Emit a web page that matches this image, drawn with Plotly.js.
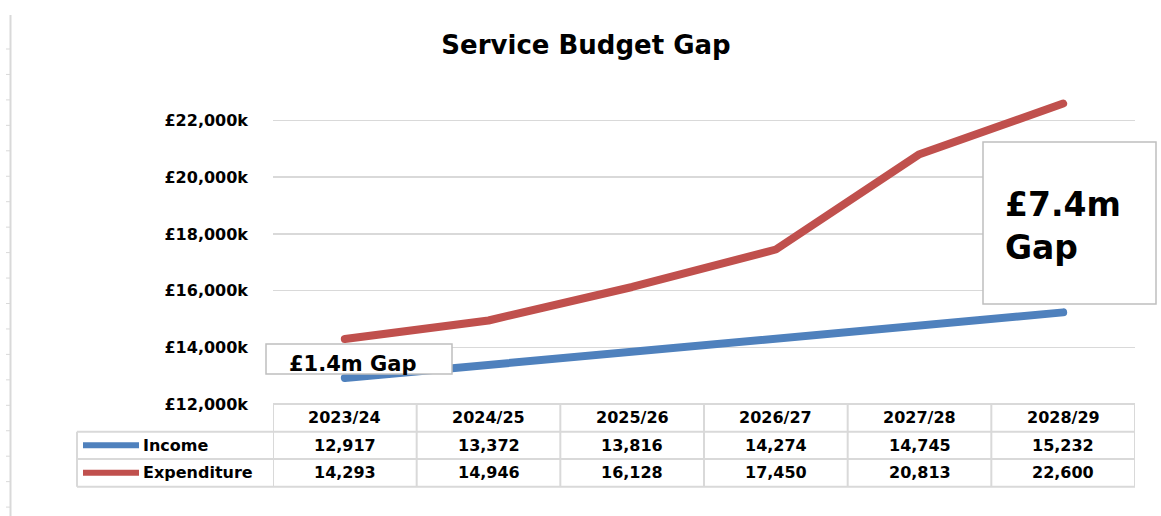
<!DOCTYPE html>
<html>
<head>
<meta charset="utf-8">
<script src="https://cdn.plot.ly/plotly-3.0.1.min.js"></script>
<style>
  html, body { margin: 0; padding: 0; background: #ffffff; }
  #chart { width: 1161px; height: 516px; }
  #chart .scatterlayer path.js-line { stroke-linecap: round; stroke-linejoin: round; }
</style>
</head>
<body>
<div id="chart"></div>
<script>
// ---- Data ----
const categories = ['2023/24', '2024/25', '2025/26', '2026/27', '2027/28', '2028/29'];
const income = [12917, 13372, 13816, 14274, 14745, 15232];
const expenditure = [14293, 14946, 16128, 17450, 20813, 22600];
const seriesNames = ['Income', 'Expenditure'];
const seriesColors = ['#4f81bd', '#c0504d'];
const yTickValues = [12000, 14000, 16000, 18000, 20000, 22000];
const yTickLabels = yTickValues.map(v => '£' + v.toLocaleString('en-GB') + 'k');
const chartTitle = 'Service Budget Gap';
const startGapLabel = '£1.4m Gap';
const endGapLabel = '£7.4m<br>Gap';

// ---- Layout geometry (pixels) ----
const W = 1161, H = 516;
const L = 273, R = 1135, T = 78, B = 404;
const px = x => (x - L) / (R - L);
const py = y => (B - y) / (B - T);

const tableFont = { family: 'DejaVu Sans', size: 16, color: '#000000', weight: 700 };
const gridCol = '#d9d9d9';
const rowTops = [404, 431.7, 459, 486.7];

const shapes = [];
const annotations = [];

// table horizontal lines
shapes.push({ type: 'line', xref: 'paper', yref: 'paper', x0: px(L), x1: px(R), y0: py(rowTops[0]), y1: py(rowTops[0]), line: { color: gridCol, width: 2 } });
for (let r = 1; r < rowTops.length; r++) {
  shapes.push({ type: 'line', xref: 'paper', yref: 'paper', x0: px(77), x1: px(R), y0: py(rowTops[r]), y1: py(rowTops[r]), line: { color: gridCol, width: 2 } });
}
// table vertical lines
for (let i = 0; i <= categories.length; i++) {
  shapes.push({ type: 'line', xref: 'x', yref: 'paper', x0: i - 0.5, x1: i - 0.5, y0: py(rowTops[0]), y1: py(rowTops[3]), line: { color: gridCol, width: 2 } });
}
shapes.push({ type: 'line', xref: 'paper', yref: 'paper', x0: px(77), x1: px(77), y0: py(rowTops[1]), y1: py(rowTops[3]), line: { color: gridCol, width: 2 } });

// header row + value rows
const seriesData = [income, expenditure];
categories.forEach((c, i) => {
  annotations.push({ xref: 'x', yref: 'paper', x: i, y: py((rowTops[0] + rowTops[1]) / 2), text: c, showarrow: false, font: tableFont, xanchor: 'center', yanchor: 'middle' });
  seriesData.forEach((s, k) => {
    annotations.push({ xref: 'x', yref: 'paper', x: i, y: py((rowTops[k + 1] + rowTops[k + 2]) / 2), text: s[i].toLocaleString('en-GB'), showarrow: false, font: tableFont, xanchor: 'center', yanchor: 'middle' });
  });
});
// legend keys in table
seriesNames.forEach((n, k) => {
  const yc = py((rowTops[k + 1] + rowTops[k + 2]) / 2);
  shapes.push({ type: 'line', xref: 'paper', yref: 'paper', x0: px(83), x1: px(139), y0: yc, y1: yc, line: { color: seriesColors[k], width: 6 } });
  annotations.push({ xref: 'paper', yref: 'paper', x: px(141), y: yc, text: n, showarrow: false, font: tableFont, xanchor: 'left', yanchor: 'middle' });
});

// left ruler decoration
shapes.push({ type: 'line', xref: 'paper', yref: 'paper', x0: px(10.5), x1: px(10.5), y0: py(15), y1: py(516), line: { color: gridCol, width: 2 } });
for (let k = 0; k < 19; k++) {
  const yy = 49 + k * 25.45;
  shapes.push({ type: 'line', xref: 'paper', yref: 'paper', x0: px(6), x1: px(10), y0: py(yy), y1: py(yy), line: { color: gridCol, width: 1 } });
}

// gap boxes
shapes.push({ type: 'rect', xref: 'paper', yref: 'paper', x0: px(266), x1: px(452), y0: py(344), y1: py(374), fillcolor: '#ffffff', line: { color: '#bfbfbf', width: 1.5 }, layer: 'above' });
annotations.push({ xref: 'paper', yref: 'paper', x: px(352), y: py(364), text: startGapLabel, showarrow: false, font: { family: 'DejaVu Sans', size: 21, color: '#000000', weight: 700 }, xanchor: 'center', yanchor: 'middle' });
shapes.push({ type: 'rect', xref: 'paper', yref: 'paper', x0: px(983), x1: px(1156), y0: py(142), y1: py(304), fillcolor: '#ffffff', line: { color: '#bfbfbf', width: 1.5 }, layer: 'above' });
annotations.push({ xref: 'paper', yref: 'paper', x: px(1003), y: py(226), text: endGapLabel, showarrow: false, align: 'left', font: { family: 'DejaVu Sans', size: 33, color: '#000000', weight: 700 }, xanchor: 'left', yanchor: 'middle' });

const traces = seriesNames.map((n, k) => ({
  type: 'scatter', mode: 'lines', name: n, x: categories, y: seriesData[k],
  line: { color: seriesColors[k], width: 8 }, hoverinfo: 'skip'
}));

const layout = {
  width: W, height: H,
  margin: { l: L, r: W - R, t: T, b: H - B, pad: 0 },
  paper_bgcolor: '#ffffff', plot_bgcolor: '#ffffff',
  showlegend: false,
  title: { text: '<b>' + chartTitle + '</b>', font: { family: 'DejaVu Sans', size: 26, color: '#000000' }, x: 586 / W, xref: 'container', xanchor: 'center', y: 1 - 45 / H, yref: 'container', yanchor: 'middle' },
  xaxis: { type: 'category', range: [-0.5, categories.length - 0.5], showticklabels: false, showgrid: false, zeroline: false, showline: false, ticks: '' },
  yaxis: { range: [12000, 23500], tickmode: 'array', tickvals: yTickValues, ticktext: yTickLabels, showgrid: true, gridcolor: gridCol, gridwidth: 1.5, zeroline: false, showline: false, ticks: '', ticklabelstandoff: 24, tickfont: { family: 'DejaVu Sans', size: 16, color: '#000000', weight: 700 } },
  shapes: shapes,
  annotations: annotations
};

Plotly.newPlot('chart', traces, layout, { displayModeBar: false, staticPlot: true });
</script>
</body>
</html>
